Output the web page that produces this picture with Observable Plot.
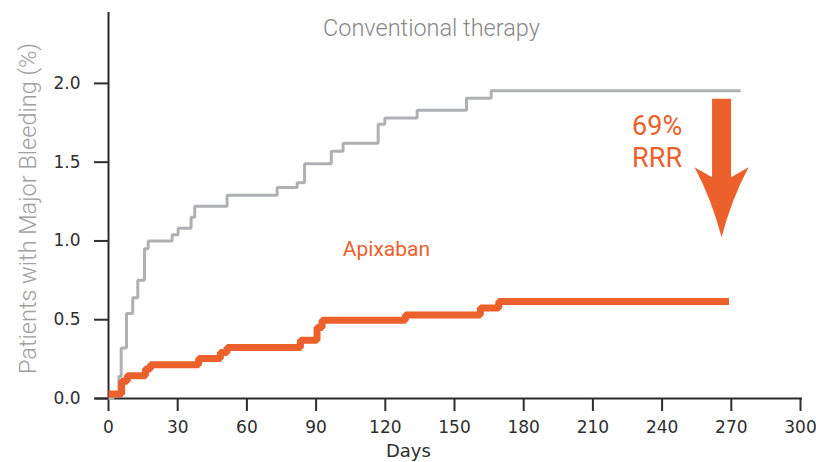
<!DOCTYPE html>
<html>
<head>
<meta charset="utf-8">
<script src="https://cdn.jsdelivr.net/npm/d3@7"></script>
<script src="https://cdn.jsdelivr.net/npm/@observablehq/plot@0.6"></script>
<style>
  body { margin: 0; background: #fff; }
  #chart svg [aria-label*="axis"] line,
  #chart svg [aria-label*="axis"] path { stroke-width: 2px; }
</style>
</head>
<body>
<div id="chart"></div>
<script>
// Axis ticks
const xTicks = [0, 30, 60, 90, 120, 150, 180, 210, 240, 270, 300];
const yTicks = [0, 0.5, 1.0, 1.5, 2.0];

// Cumulative incidence of major bleeding (%), step changes by day
const conventionalDays = [0, 2, 4.5, 5.5, 7.8, 10.5, 12.7, 15.6, 17.2, 27.6, 30.2, 35.8, 37.4, 51.4, 73.1, 81.8, 85, 96.6, 101.7, 116.9, 119.8, 133.8, 155.2, 165.9, 274];
const conventionalPct  = [0, 0.03, 0.14, 0.32, 0.54, 0.64, 0.75, 0.95, 1.00, 1.04, 1.08, 1.15, 1.22, 1.29, 1.34, 1.37, 1.49, 1.57, 1.62, 1.74, 1.78, 1.83, 1.905, 1.954, 1.954];

const apixabanDays = [0, 5.7, 8.1, 16, 18.2, 39.1, 48.5, 51.4, 83.2, 90.4, 92.6, 128.7, 161.2, 169.2, 269];
const apixabanPct  = [0.028, 0.11, 0.144, 0.187, 0.214, 0.254, 0.292, 0.324, 0.37, 0.45, 0.497, 0.53, 0.574, 0.616, 0.616];

// Relative risk reduction callout
const rrrText = "69%\nRRR";
const arrowDay = 266;
const arrowFrom = 1.90;
const arrowTo = 1.02;

const conventional = conventionalDays.map((d, i) => ({day: d, pct: conventionalPct[i]}));
const apixaban = apixabanDays.map((d, i) => ({day: d, pct: apixabanPct[i]}));

const orange = "#eb602b";
const axisInk = "#2b2b2b";

const chart = Plot.plot({
  width: 816,
  height: 462,
  marginLeft: 108,
  marginRight: 16,
  marginTop: 12,
  marginBottom: 64,
  style: {fontFamily: "DejaVu Sans", fontSize: "17px", color: "#2e2e2e", background: "#fff", overflow: "visible"},
  x: {domain: [0, 300], ticks: xTicks, tickSize: 13, tickPadding: 9, label: null},
  y: {domain: [0, 2.45], ticks: yTicks, tickFormat: ".1f", tickSize: 14, tickPadding: 14, label: null},
  marks: [
    Plot.ruleY([0], {stroke: axisInk, strokeWidth: 2, insetLeft: -13, insetRight: -2}),
    Plot.ruleX([0], {stroke: axisInk, strokeWidth: 2}),
    Plot.line(conventional, {x: "day", y: "pct", curve: "step-after", stroke: "#afb0b3", strokeWidth: 3, strokeLinejoin: "miter", strokeLinecap: "butt"}),
    Plot.line(apixaban, {x: "day", y: "pct", curve: "step-after", stroke: orange, strokeWidth: 7, strokeLinejoin: "miter", strokeLinecap: "butt"}),
    Plot.text(["Conventional therapy"], {x: () => 140, y: () => 2.35, text: d => d, fill: "#888888", fontFamily: "Roboto", fontWeight: 300, fontSize: 23.5}),
    Plot.text(["Apixaban"], {x: () => 120.5, y: () => 0.95, text: d => d, fill: orange, fontFamily: "Roboto", fontWeight: 400, fontSize: 21}),
    Plot.text([rrrText], {x: () => 227, y: () => 1.636, text: d => d, textAnchor: "start", lineHeight: 1.2, fill: orange, fontFamily: "Roboto", fontWeight: 400, fontSize: 27}),
    Plot.text(["Patients with Major Bleeding (%)"], {frameAnchor: "left", textAnchor: "middle", dx: -80, dy: 3, rotate: -90, text: d => d, fill: "#a0a0a0", fontFamily: "Roboto", fontWeight: 300, fontSize: 23.5}),
    Plot.text(["Days"], {x: () => 130, frameAnchor: "bottom", dy: 58, text: d => d, fill: "#2e2e2e", fontSize: 18})
  ]
});

document.getElementById("chart").appendChild(chart);

// Downward arrow showing the reduction, placed through the plot's scales
const sx = chart.scale("x"), sy = chart.scale("y");
const X = d3.scaleLinear(sx.domain, sx.range);
const Y = d3.scaleLinear(sy.domain, sy.range);
const arrowX = X(arrowDay), arrowTop = Y(arrowFrom), arrowTip = Y(arrowTo);
const shaft = 9.5, wing = 27, headLen = 70, join = 10;
const p = d3.path();
p.moveTo(arrowX - shaft, arrowTop);
p.lineTo(arrowX - shaft, arrowTip - headLen + join);
p.lineTo(arrowX - wing, arrowTip - headLen);
p.quadraticCurveTo(arrowX - 10, arrowTip - 38, arrowX, arrowTip);
p.quadraticCurveTo(arrowX + 10, arrowTip - 38, arrowX + wing, arrowTip - headLen);
p.lineTo(arrowX + shaft, arrowTip - headLen + join);
p.lineTo(arrowX + shaft, arrowTop);
p.closePath();
d3.select(chart).append("path").attr("d", p.toString()).attr("fill", orange);
</script>
</body>
</html>
